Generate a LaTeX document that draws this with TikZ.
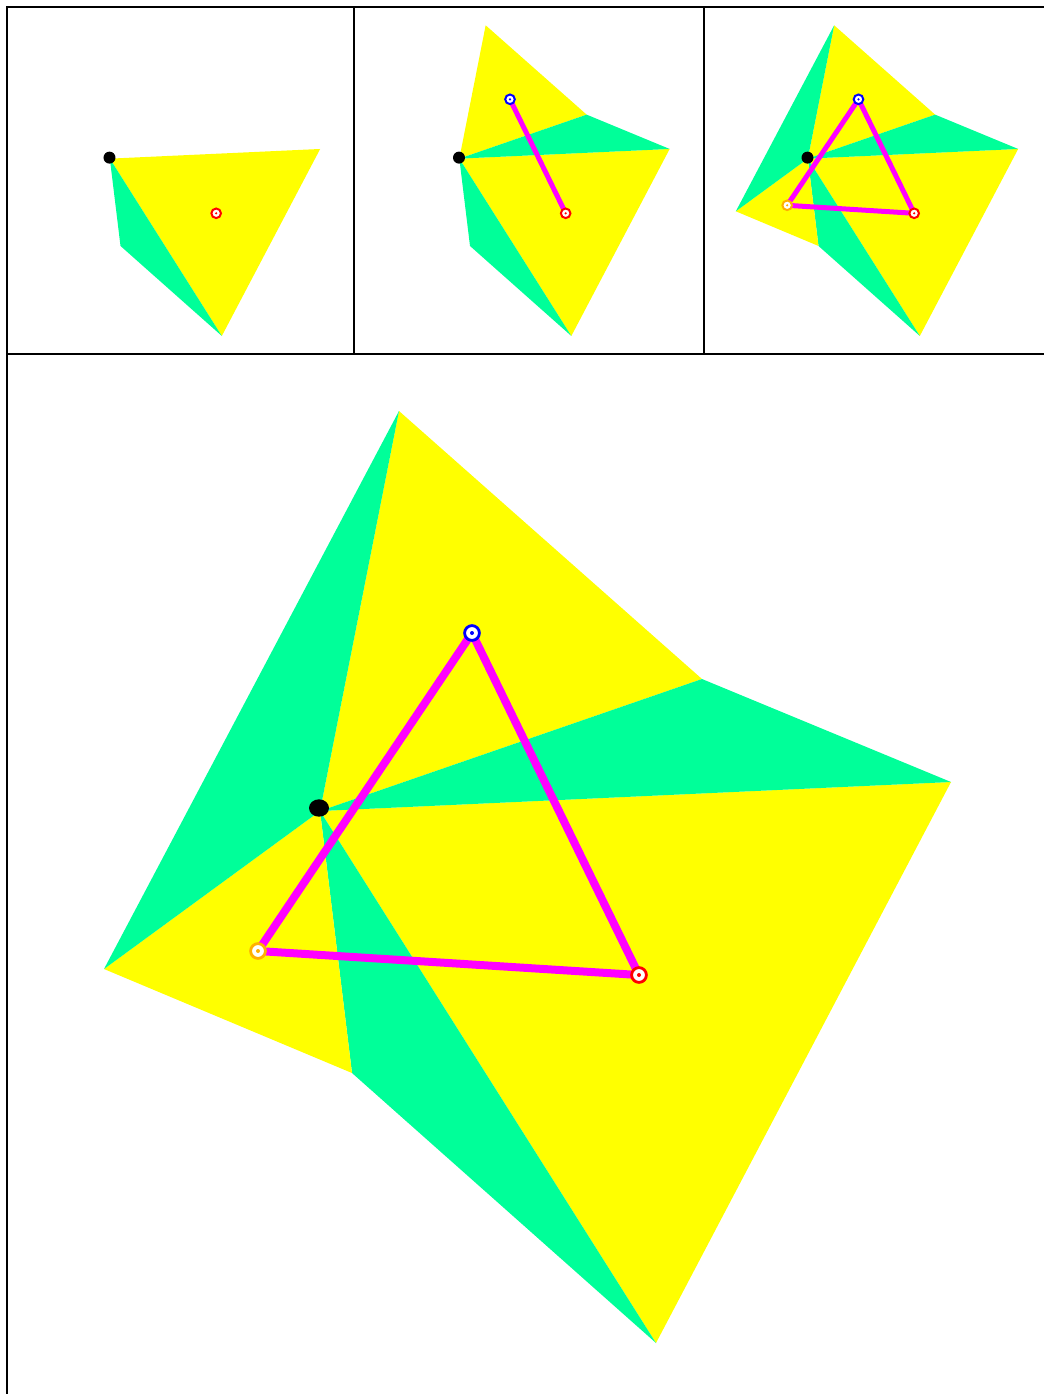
\documentclass[tikz,border=0pt]{standalone}
\usetikzlibrary{shapes.geometric}

\definecolor{kiteyellow}{RGB}{255,255,0}
\definecolor{kitegreen}{RGB}{0,255,153}
\definecolor{linkmagenta}{RGB}{255,0,255}
\definecolor{pinred}{RGB}{255,0,0}
\definecolor{pinblue}{RGB}{0,0,255}
\definecolor{pinorange}{RGB}{255,176,0}

% corner points of the three kites, in big-panel pixels (y down)
\newcommand{\kitepoints}{%
  \coordinate (O) at (313,457);
  \coordinate (P) at (312,454);
  \coordinate (A) at (392,57);
  \coordinate (B) at (695,325);
  \coordinate (C) at (944,428);
  \coordinate (D) at (649,989);
  \coordinate (E) at (345,719);
  \coordinate (F) at (97,615);
  \coordinate (R) at (632,621);
  \coordinate (Bl) at (465,279);
  \coordinate (Or) at (251,597);
}

\begin{document}
\begin{tikzpicture}[
    x=0.5pt, y=-0.5pt,
    frame/.style={line width=1pt, draw=black},
    yel/.style={fill=kiteyellow},
    grn/.style={fill=kitegreen},
    smalllink/.style={draw=linkmagenta, line width=2.5pt},
    biglink/.style={draw=linkmagenta, line width=4pt},
    smalldot/.style={circle, fill=black, inner sep=0pt, minimum size=6pt},
    bigdot/.style={ellipse, fill=black, inner sep=0pt, minimum width=10pt, minimum height=8.7pt},
    smallpin/.style={circle, draw=#1, fill=white, line width=1pt, inner sep=0pt, minimum size=4.8pt,
        path picture={\fill[#1] (path picture bounding box.center) circle (0.6pt);}},
    bigpin/.style={circle, draw=#1, fill=white, line width=1.4pt, inner sep=0pt, minimum size=7.4pt,
        path picture={\fill[#1] (path picture bounding box.center) circle (1pt);}}
]
\useasboundingbox (0,0) rectangle (1044,1394);
\clip (0,0) rectangle (1044,1394);

% Panel 1: first kite only
\begin{scope}[shift={(5.5,6.3)}, scale=1/3]
  \kitepoints
  \fill[yel] (O) -- (C) -- (D) -- cycle;
  \fill[grn] (O) -- (D) -- (E) -- cycle;
  \node[smalldot] (pivot1) at (P) {};
  \node[smallpin=pinred] (red1) at (R) {};
\end{scope}

% Panel 2: second kite added
\begin{scope}[shift={(355,6.3)}, scale=1/3]
  \kitepoints
  \fill[yel] (O) -- (C) -- (D) -- cycle;
  \fill[grn] (O) -- (D) -- (E) -- cycle;
  \fill[yel] (O) -- (A) -- (B) -- cycle;
  \fill[grn] (O) -- (B) -- (C) -- cycle;
  \draw[smalllink] (R) -- (Bl);
  \node[smalldot] (pivot2) at (P) {};
  \node[smallpin=pinred] (red2) at (R) {};
  \node[smallpin=pinblue] (blue2) at (Bl) {};
\end{scope}

% Panel 3: all three kites
\begin{scope}[shift={(703.5,6.3)}, scale=1/3]
  \kitepoints
  \fill[yel] (O) -- (C) -- (D) -- cycle;
  \fill[grn] (O) -- (D) -- (E) -- cycle;
  \fill[yel] (O) -- (A) -- (B) -- cycle;
  \fill[grn] (O) -- (B) -- (C) -- cycle;
  \fill[yel] (O) -- (E) -- (F) -- cycle;
  \fill[grn] (O) -- (F) -- (A) -- cycle;
  \draw[smalllink] (R) -- (Bl);
  \draw[smalllink] (Bl) -- (Or);
  \draw[smalllink] (Or) -- (R);
  \node[smalldot] (pivot3) at (P) {};
  \node[smallpin=pinred] (red3) at (R) {};
  \node[smallpin=pinblue] (blue3) at (Bl) {};
  \node[smallpin=pinorange] (orange3) at (Or) {};
\end{scope}

% Big panel: panel 3 enlarged
\begin{scope}[shift={(7,354)}]
  \kitepoints
  \fill[yel] (O) -- (C) -- (D) -- cycle;
  \fill[grn] (O) -- (D) -- (E) -- cycle;
  \fill[yel] (O) -- (A) -- (B) -- cycle;
  \fill[grn] (O) -- (B) -- (C) -- cycle;
  \fill[yel] (O) -- (E) -- (F) -- cycle;
  \fill[grn] (O) -- (F) -- (A) -- cycle;
  \draw[biglink] (R) -- (Bl);
  \draw[biglink] (Bl) -- (Or);
  \draw[biglink] (Or) -- (R);
  \node[bigdot] (pivot4) at (P) {};
  \node[bigpin=pinred] (red4) at (R) {};
  \node[bigpin=pinblue] (blue4) at (Bl) {};
  \node[bigpin=pinorange] (orange4) at (Or) {};
\end{scope}

% Frames
\draw[frame] (7,1400) -- (7,7) -- (1050,7);
\draw[frame] (7,354) -- (1050,354);
\draw[frame] (354,7) -- (354,354);
\draw[frame] (704,7) -- (704,354);

\end{tikzpicture}
\end{document}
